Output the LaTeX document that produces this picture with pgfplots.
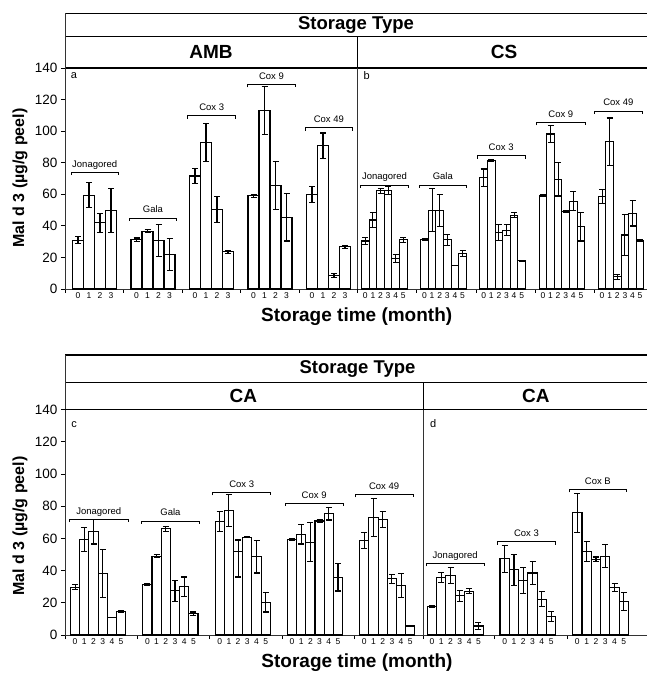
\documentclass[border=0pt]{standalone}
\usepackage{pgfplots}
\usepackage{pgfplotstable}
\pgfplotsset{compat=1.18}
\usepackage{fontspec}
\setmainfont{Liberation Sans}
\newcommand{\fs}[1]{\fontsize{#1}{#1}\selectfont}

\pgfplotstableread{
x y ep em
78 31.0 2 2
89 59.5 8 8
100 42.0 6 6
111 49.6 14 14
136.5 31.3 1 1
147.5 36.7 1 1
158.5 30.6 10 10
169.5 22 10 10
195 71.6 5 5
206 92.8 12 12
217 50.4 8 8
228 23.6 1 1
253.5 59.1 1 1
264.5 113 15 15
275.5 65.6 15 15
286.5 45.4 15 15
312 59.9 5 5
323 90.8 8 8
334 8.5 1.5 1.5
345 26.8 1 1
}\tA

\pgfplotstableread{
x y ep em
365.3 30.4 2 2
372.9 43.7 4.5 4.5
380.5 62.2 1.5 1.5
388.1 62.2 2.5 2.5
395.7 19.4 2.5 2.5
403.3 31.1 1.5 1.5
424.5 31.5 0.5 0.5
432.1 50 13.5 13.5
439.7 49.6 10 10
447.3 31.1 3.5 3.5
454.9 15.1 0 0
462.5 22.6 2 2
483.7 70.5 5.5 5.5
491.3 81.2 0.5 0.5
498.9 35.9 5 5
506.5 37.3 3.5 3.5
514.1 46.8 1.5 1.5
521.7 17.8 0.5 0.5
542.9 59.1 0.5 0.5
550.5 98.2 5.5 5.5
558.1 69.4 10.5 10.5
565.7 48.9 0.5 0.5
573.3 55.7 6 6
580.9 39.4 9 9
602.1 58.5 4.5 4.5
609.7 93.3 15 15
617.3 7.8 1.5 1.5
624.9 34.2 13 13
632.5 47.9 8 8
640.1 30.6 0.5 0.5
}\tB

\pgfplotstableread{
x y ep em
75.1 29.6 1.5 1.5
84.3 59.2 7.5 7.5
93.5 64 7.5 7.5
102.7 38.3 15 15
111.9 10.8 0 0
121.1 14.6 0.5 0.5
147.4 31.2 0.5 0.5
156.6 49 1 1
165.8 66 1.5 1.5
175.0 27.5 6.5 6.5
184.2 30 6 6
193.4 13.3 1 1
219.7 70.5 6 6
228.9 77.3 10 10
238.1 52 7 16
247.3 60.8 0.5 0.5
256.5 48.5 10 10
265.7 20.3 6 6
292.0 59.2 0.5 0.5
301.2 62.5 6 6
310.4 57.7 12 12
319.6 70.8 1 1
328.8 75.4 4 4
338.0 35.8 8.5 8.5
364.3 58.8 5 5
373.5 72.9 12 12
382.7 71.7 5 5
391.9 34.8 3 3
401.1 30.6 7.5 7.5
410.3 5.6 0.5 0.5
}\tC

\pgfplotstableread{
x y ep em
431.95 17.5 0.5 0.5
441.25 35.8 3 3
450.55 36.9 5 5
459.85 24.4 3.5 3.5
469.15 27.1 1.5 1.5
478.45 5.6 2 2
504.65 47.3 8.5 8.5
513.95 40.4 9.5 9.5
523.25 34 8 8
532.55 38.5 7 7
541.85 22.3 4.5 4.5
551.15 11.5 3 3
577.35 75.8 12 12
586.65 51.9 6 6
595.95 46.9 1.5 1.5
605.25 49 7 7
614.55 29.6 2.5 2.5
623.85 20.8 5.5 5.5
}\tD

\pgfplotsset{
  panel/.style={
    scale only axis, clip=false,
    ymin=0, ymax=140,
    axis x line*=bottom, axis y line*=left,
    axis line style={-, line width=0.9pt, black!80},
    tick align=outside,
    major tick length=4pt, minor tick length=4pt,
    major x tick style={draw=none},
    minor x tick style={line width=0.8pt, black},
    xticklabel style={font=\fs{8.5}, inner sep=1pt, yshift=2pt},
    yticklabel style={font=\fs{13.5}},
    /pgf/number format/assume math mode=true,
    ytick style={line width=0.8pt, black},
  },
  bars/.style={ybar, bar shift=0pt, fill=white, draw=black, line width=1.1pt,
    error bars/.cd, y dir=both, y explicit,
    error bar style={line width=1.1pt, black},
    error mark options={rotate=90, mark size=3pt, line width=1.1pt, black}},
}
\newcommand{\brk}[4]{\draw[line width=0.8pt] ([yshift=-3pt]axis cs:#1,#3) -- (axis cs:#1,#3) -- node[midway, anchor=base, yshift=5pt, font=\fs{9.5}, inner sep=0pt]{#4} (axis cs:#2,#3) -- ([yshift=-3pt]axis cs:#2,#3);}

\begin{document}
\begin{tikzpicture}
\useasboundingbox (0pt,0pt) rectangle (647pt,675pt);

% ---------- top headers ----------
\draw[line width=1.5pt] (65pt,661.5pt) -- (647pt,661.5pt);
\draw[line width=1.5pt] (65pt,638.5pt) -- (647pt,638.5pt);
\draw[line width=1.2pt] (65pt,607pt) -- (647pt,607pt);
\draw[line width=0.9pt, black!80] (65pt,661.5pt) -- (65pt,607pt);
\draw[line width=0.9pt] (357.5pt,638.5pt) -- (357.5pt,607pt);
\node[font=\bfseries\fs{18.5}] at (356pt,650pt) {Storage Type};
\node[font=\bfseries\fs{19}] at (211pt,623pt) {AMB};
\node[font=\bfseries\fs{19}] at (504pt,623pt) {CS};
\node[font=\fs{11}] at (74pt,599pt) {a};
\node[font=\fs{11}] at (366.7pt,599pt) {b};
\node[rotate=90, font=\bfseries\fs{16}] at (20pt,497pt) {Mal d 3 (µg/g peel)};
\node[font=\bfseries\fs{19}] at (356.7pt,358.3pt) {Storage time (month)};

% ---------- bottom headers ----------
\draw[line width=1.5pt] (65pt,320pt) -- (647pt,320pt);
\draw[line width=1.2pt] (65pt,292.7pt) -- (647pt,292.7pt);
\draw[line width=1.5pt] (65pt,265.5pt) -- (647pt,265.5pt);
\draw[line width=0.9pt, black!80] (65pt,320pt) -- (65pt,265.5pt);
\draw[line width=0.9pt] (423pt,292.7pt) -- (423pt,265.5pt);
\node[font=\bfseries\fs{18.5}] at (357.5pt,305.7pt) {Storage Type};
\node[font=\bfseries\fs{19}] at (243.3pt,279pt) {CA};
\node[font=\bfseries\fs{19}] at (535.8pt,279pt) {CA};
\node[font=\fs{11}] at (74pt,250pt) {c};
\node[font=\fs{11}] at (433.3pt,251.7pt) {d};
\node[rotate=90, font=\bfseries\fs{16}] at (20pt,149pt) {Mal d 3 (µg/g peel)};
\node[font=\bfseries\fs{19}] at (357pt,12pt) {Storage time (month)};

% ---------- panel a ----------
\begin{axis}[panel, at={(65pt,386pt)}, anchor=south west,
  width=292.5pt, height=221pt, xmin=65, xmax=357.5,
  ytick={0,20,...,140},
  xtick={78,89,100,111,136.5,147.5,158.5,169.5,195,206,217,228,253.5,264.5,275.5,286.5,312,323,334,345},
  xticklabels={0,1,2,3,0,1,2,3,0,1,2,3,0,1,2,3,0,1,2,3},
  minor xtick={65,123.5,182,240.5,299}]
\addplot[bar width=11, bars] table[x=x, y=y, y error plus=ep, y error minus=em] {\tA};
\brk{71}{118.3}{74.1}{Jonagored}
\brk{129.3}{176.7}{45}{Gala}
\brk{187.7}{235.7}{109.8}{Cox 3}
\brk{247.3}{295.7}{129.7}{Cox 9}
\brk{305}{352.7}{102.2}{Cox 49}
\end{axis}

% ---------- panel b ----------
\begin{axis}[panel, at={(357.5pt,386pt)}, anchor=south west,
  width=289.5pt, height=221pt, xmin=357.5, xmax=647,
  ytick=\empty,
  xtick={365.3,372.9,380.5,388.1,395.7,403.3,424.5,432.1,439.7,447.3,454.9,462.5,483.7,491.3,498.9,506.5,514.1,521.7,542.9,550.5,558.1,565.7,573.3,580.9,602.1,609.7,617.3,624.9,632.5,640.1},
  xticklabels={0,1,2,3,4,5,0,1,2,3,4,5,0,1,2,3,4,5,0,1,2,3,4,5,0,1,2,3,4,5},
  minor xtick={357.5,416.7,475.9,535.1,594.3}]
\addplot[bar width=7.6, bars] table[x=x, y=y, y error plus=ep, y error minus=em] {\tB};
\brk{360.7}{408.3}{65.9}{Jonagored}
\brk{419}{466.7}{65.9}{Gala}
\brk{477.3}{525}{84.4}{Cox 3}
\brk{536.7}{585}{105.6}{Cox 9}
\brk{594.3}{642.3}{112.8}{Cox 49}
\end{axis}

% ---------- panel c ----------
\begin{axis}[panel, at={(65pt,40pt)}, anchor=south west,
  width=358pt, height=225.5pt, xmin=65, xmax=423,
  ytick={0,20,...,140},
  xtick={75.1,84.3,93.5,102.7,111.9,121.1,147.4,156.6,165.8,175.0,184.2,193.4,219.7,228.9,238.1,247.3,256.5,265.7,292.0,301.2,310.4,319.6,328.8,338.0,364.3,373.5,382.7,391.9,401.1,410.3},
  xticklabels={0,1,2,3,4,5,0,1,2,3,4,5,0,1,2,3,4,5,0,1,2,3,4,5,0,1,2,3,4,5},
  minor xtick={65,137.3,209.6,281.9,354.2}]
\addplot[bar width=9.2, bars] table[x=x, y=y, y error plus=ep, y error minus=em] {\tC};
\brk{69.3}{128.3}{72}{Jonagored}
\brk{141.7}{199.3}{70.8}{Gala}
\brk{212.7}{270.7}{88.6}{Cox 3}
\brk{285}{343.3}{81.8}{Cox 9}
\brk{355}{413.3}{87.3}{Cox 49}
\end{axis}

% ---------- panel d ----------
\begin{axis}[panel, at={(423pt,40pt)}, anchor=south west,
  width=224pt, height=225.5pt, xmin=423, xmax=647,
  ytick=\empty,
  xtick={431.95,441.25,450.55,459.85,469.15,478.45,504.65,513.95,523.25,532.55,541.85,551.15,577.35,586.65,595.95,605.25,614.55,623.85},
  xticklabels={0,1,2,3,4,5,0,1,2,3,4,5,0,1,2,3,4,5},
  minor xtick={423,494.5,567}]
\addplot[bar width=9.3, bars] table[x=x, y=y, y error plus=ep, y error minus=em] {\tD};
\brk{426}{484.3}{44.5}{Jonagored}
\brk{497.3}{555.7}{57.9}{Cox 3}
\brk{569}{626.7}{90.4}{Cox B}
\end{axis}
\end{tikzpicture}
\end{document}
